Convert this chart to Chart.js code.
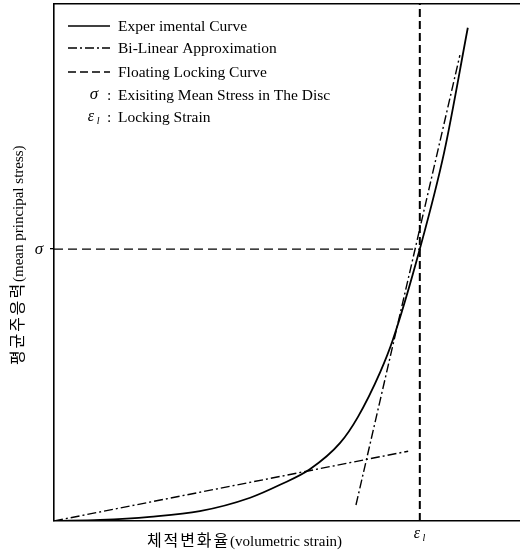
<!DOCTYPE html>
<html>
<head>
<meta charset="utf-8">
<script src="https://cdn.jsdelivr.net/npm/chart.js@4.4.1/dist/chart.umd.min.js"></script>
<style>
  html, body { margin: 0; padding: 0; background: #fff; }
  #wrap { width: 520px; height: 553px; position: relative; }
  canvas { background: #fff; }
</style>
</head>
<body>
<div id="wrap"><canvas id="chart"></canvas></div>
<script>
// Experimental stress–strain curve (normalised strain, normalised stress)
const expStrain = [0.000, 0.099, 0.206, 0.313, 0.421, 0.485, 0.549, 0.614, 0.652, 0.700, 0.727, 0.785, 0.837, 0.888];
const expStress = [0.000, 0.002, 0.008, 0.019, 0.045, 0.070, 0.100, 0.151, 0.201, 0.288, 0.350, 0.526, 0.712, 0.954];

// Bi-linear approximation: initial branch and locking branch
const biLowStrain = [0.000, 0.760];
const biLowStress = [0.000, 0.135];
const biHighStrain = [0.648, 0.871];
const biHighStress = [0.031, 0.901];

// Locking strain and existing mean stress
const lockingStrain = 0.785;
const meanStress = 0.526;

// Text
const xTitleKo = '체적변화율';
const xTitleEn = '(volumetric strain)';
const yTitleKo = '평균주응력';
const yTitleEn = '(mean principal stress)';
const legendLabels = ['Exper imental Curve', 'Bi-Linear Approximation', 'Floating Locking Curve',
                      'Exisiting Mean Stress in The Disc', 'Locking Strain'];

const pts = (xs, ys) => xs.map((v, i) => ({ x: v, y: ys[i] }));

const DASH_DOT = [9, 3, 2, 3];
const DASH = [8, 4];
const SERIF = "'Liberation Serif', 'Times New Roman', serif";
const KO = "'Noto Sans CJK KR', sans-serif";

function drawEpsL(ctx, cx, cy, size) {
  ctx.font = 'italic ' + size + 'px ' + SERIF;
  ctx.textAlign = 'center';
  ctx.textBaseline = 'middle';
  ctx.fillText('ε', cx, cy);
  ctx.font = 'italic ' + Math.round(size * 0.62) + 'px ' + SERIF;
  ctx.fillText('l', cx + size * 0.45, cy + size * 0.25);
}

function drawSpaced(ctx, text, x, y, step) {
  for (const ch of text) { ctx.fillText(ch, x, y); x += step; }
  return x;
}

const decorations = {
  id: 'decorations',
  afterDraw(chart) {
    const { ctx, scales: { x, y } } = chart;
    ctx.save();
    ctx.fillStyle = '#000';
    ctx.strokeStyle = '#000';

    // symbols on the axes
    ctx.font = 'italic 17px ' + SERIF;
    ctx.textAlign = 'center';
    ctx.textBaseline = 'middle';
    ctx.fillText('σ', 39, y.getPixelForValue(meanStress));
    drawEpsL(ctx, x.getPixelForValue(lockingStrain) - 3, 534, 16);

    // legend
    const rows = [26, 48, 72, 95, 117];
    const styles = [[], DASH_DOT, DASH];
    ctx.lineWidth = 1.5;
    for (let i = 0; i < 3; i++) {
      ctx.setLineDash(styles[i]);
      ctx.beginPath();
      ctx.moveTo(68, rows[i]);
      ctx.lineTo(110, rows[i]);
      ctx.stroke();
    }
    ctx.setLineDash([]);
    ctx.font = '15.5px ' + SERIF;
    ctx.textAlign = 'left';
    ctx.textBaseline = 'middle';
    for (let i = 0; i < 3; i++) ctx.fillText(legendLabels[i], 118, rows[i] + 1);
    ctx.font = 'italic 17px ' + SERIF;
    ctx.textAlign = 'center';
    ctx.fillText('σ', 94, rows[3]);
    drawEpsL(ctx, 91, rows[4], 16);
    ctx.font = '15.5px ' + SERIF;
    ctx.textAlign = 'left';
    ctx.fillText(':', 107, rows[3] + 1);
    ctx.fillText(':', 107, rows[4] + 1);
    ctx.fillText(legendLabels[3], 118, rows[3] + 1);
    ctx.fillText(legendLabels[4], 118, rows[4] + 1);

    // x axis title
    ctx.textAlign = 'left';
    ctx.textBaseline = 'alphabetic';
    ctx.font = '16px ' + KO;
    let px = drawSpaced(ctx, xTitleKo, 147, 546, 16.6);
    ctx.font = '15px ' + SERIF;
    ctx.fillText(xTitleEn, px, 546);

    // y axis title (rotated, reading upward)
    ctx.translate(23, 365);
    ctx.rotate(-Math.PI / 2);
    ctx.font = '16px ' + KO;
    px = drawSpaced(ctx, yTitleKo, 0, 0, 16.6);
    ctx.font = '15px ' + SERIF;
    ctx.fillText(yTitleEn, px, 0);

    ctx.restore();
  }
};

new Chart(document.getElementById('chart'), {
  type: 'scatter',
  data: {
    datasets: [
      { label: legendLabels[0], data: pts(expStrain, expStress), showLine: true,
        borderColor: '#000', borderWidth: 1.8, pointRadius: 0, cubicInterpolationMode: 'monotone' },
      { label: legendLabels[1], data: pts(biLowStrain, biLowStress), showLine: true,
        borderColor: '#000', borderWidth: 1.4, borderDash: DASH_DOT, pointRadius: 0 },
      { label: legendLabels[1], data: pts(biHighStrain, biHighStress), showLine: true,
        borderColor: '#000', borderWidth: 1.4, borderDash: DASH_DOT, pointRadius: 0 },
      { label: legendLabels[2], data: pts([lockingStrain, lockingStrain], [0, 1]), showLine: true,
        borderColor: '#000', borderWidth: 2, borderDash: DASH, pointRadius: 0 },
      { label: legendLabels[3], data: pts([0, lockingStrain], [meanStress, meanStress]), showLine: true,
        borderColor: '#000', borderWidth: 1.3, borderDash: [9, 5], pointRadius: 0 }
    ]
  },
  options: {
    responsive: true,
    maintainAspectRatio: false,
    animation: false,
    devicePixelRatio: 1,
    layout: { padding: 0 },
    plugins: { legend: { display: false }, tooltip: { enabled: false } },
    scales: {
      x: {
        type: 'linear', position: 'bottom', min: 0, max: 1,
        grid: { display: false },
        border: { display: true, color: '#000', width: 1.6 },
        ticks: { display: false },
        afterFit: s => { s.height = 32; }
      },
      xTop: {
        type: 'linear', position: 'top', min: 0, max: 1,
        grid: { display: false },
        border: { display: true, color: '#000', width: 1.6 },
        ticks: { display: false },
        afterFit: s => { s.height = 4; }
      },
      y: {
        type: 'linear', position: 'left', min: 0, max: 1,
        grid: { display: true, drawOnChartArea: false, drawTicks: true, tickLength: 4, color: '#000', lineWidth: 1.3 },
        border: { display: true, color: '#000', width: 1.6 },
        ticks: { display: false },
        afterBuildTicks: s => { s.ticks = [{ value: meanStress }]; },
        afterFit: s => { s.width = 54; }
      }
    }
  },
  plugins: [decorations]
});
</script>
</body>
</html>
